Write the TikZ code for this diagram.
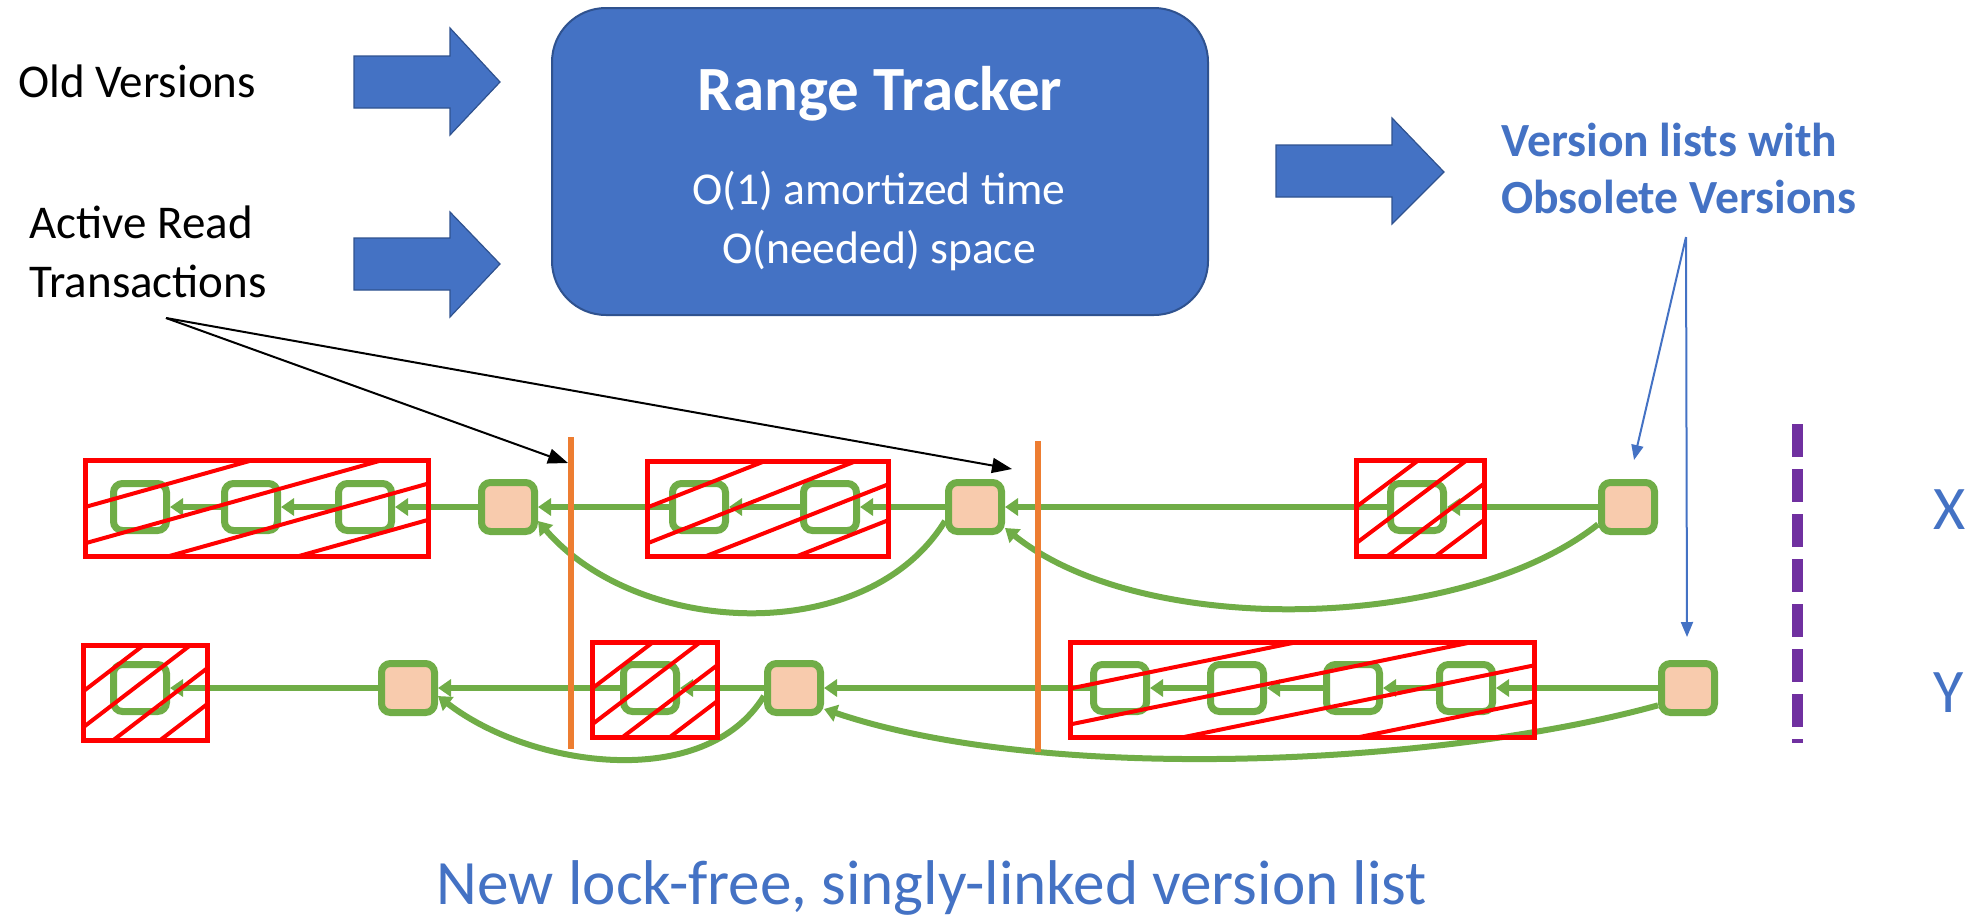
\documentclass[tikz,border=0pt]{standalone}
\usepackage{fontspec}
\setmainfont{Carlito}
\usetikzlibrary{arrows.meta,fit,calc}
\definecolor{cblue}{HTML}{4472C4}
\definecolor{cdblue}{HTML}{2F528F}
\definecolor{cgreen}{HTML}{70AD47}
\definecolor{cpeach}{HTML}{F8CBAD}
\definecolor{cred}{HTML}{FF0000}
\definecolor{corange}{HTML}{ED7D31}
\definecolor{cpurple}{HTML}{7030A0}
\tikzset{
  vnode/.style={draw=cgreen, line width=3.5pt, rounded corners=4.5pt, minimum width=26.5pt, minimum height=23.5pt, inner sep=0pt, fill=white},
  live/.style={vnode, minimum height=24.5pt, fill=cpeach},
  link/.style={draw=cgreen, line width=3pt, -{Triangle[length=6.5pt,width=8.5pt]}},
  hatchline/.style={draw=cred, line width=2pt},
  obsbox/.style={draw=cred, line width=2.5pt, inner sep=0pt},
  cutline/.style={draw=corange, line width=3.3pt},
  ptr/.style={draw=black, line width=1pt, -{Triangle[length=10pt,width=7.5pt]}},
  bptr/.style={draw=cblue, line width=1pt, -{Triangle[length=7.5pt,width=6pt]}},
  blockarrow/.style={fill=cblue, draw=cdblue, line width=0.6pt},
  lbl/.style={inner sep=0pt, anchor=base west},
  clbl/.style={inner sep=0pt, anchor=base},
}
\newcommand{\hatchbox}[5]{%
  \begin{scope}
    \clip (#2,#3) rectangle (#4,#5);
    \foreach \cc in {0.51,0.132,-0.246,-0.624}{
      \draw[hatchline] ({#2-(#4-#2)},{#5-(\cc-1)*(#5-#3)}) -- ({#4+(#4-#2)},{#5-(\cc+2)*(#5-#3)});
    }
  \end{scope}
  \node[obsbox, fit={(#2,#3)(#4,#5)}] (#1) {};
}
\newcommand{\fsLabel}{\fontsize{23.5pt}{28pt}\selectfont}
\begin{document}
\begin{tikzpicture}[x=0.5pt,y=-0.5pt]
\useasboundingbox (0,0) rectangle (1980,916);

% ---- top part ----
\node[lbl, font=\fsLabel] (old) at (18,97) {Old Versions};
\node[lbl, font=\fsLabel] (act1) at (29,238) {Active Read};
\node[lbl, font=\fsLabel] (act2) at (29,297) {Transactions};

\draw[blockarrow] (354,56) -- (450,56) -- (450,28) -- (500,82) -- (450,135) -- (450,108) -- (354,108) -- cycle;
\draw[blockarrow] (354,238) -- (450,238) -- (450,212) -- (500,264) -- (450,317) -- (450,290) -- (354,290) -- cycle;
\draw[blockarrow] (1276,145) -- (1392,145) -- (1392,118) -- (1444,172) -- (1392,224) -- (1392,197) -- (1276,197) -- cycle;

\node[fill=cblue, draw=cdblue, line width=1pt, rounded corners=27pt, minimum width=328pt, minimum height=153.5pt, inner sep=0pt] (rt) at (880,161.5) {};
\node[clbl, text=white, font=\fontsize{31.5pt}{36pt}\selectfont\bfseries] (rtt) at (880,110) {Range Tracker};
\node[clbl, text=white, font=\fontsize{22.8pt}{27pt}\selectfont] (rt1) at (879,204) {O(1) amortized time};
\node[clbl, text=white, font=\fontsize{22.8pt}{27pt}\selectfont] (rt2) at (879,263) {O(needed) space};

\node[lbl, text=cblue, font=\fontsize{23.8pt}{28pt}\selectfont\bfseries] (vl1) at (1501,156) {Version lists with};
\node[lbl, text=cblue, font=\fontsize{23.8pt}{28pt}\selectfont\bfseries] (vl2) at (1501,213) {Obsolete Versions};

% ---- version list X ----
\node[vnode] (A1) at (140,507) {};
\node[vnode] (A2) at (251,507) {};
\node[vnode] (A3) at (365,507) {};
\node[live]  (P1) at (508,507) {};
\node[vnode] (B1) at (699,507) {};
\node[vnode] (B2) at (830,507) {};
\node[live]  (P2) at (975,507) {};
\node[vnode] (C1) at (1417,507) {};
\node[live]  (P3) at (1628,507) {};

% ---- version list Y ----
\node[vnode] (D1) at (140,688) {};
\node[live]  (Q1) at (408,688) {};
\node[vnode] (D2) at (650,688) {};
\node[live]  (Q2) at (794,688) {};
\node[vnode] (E1) at (1120,688) {};
\node[vnode] (E2) at (1237,688) {};
\node[vnode] (E3) at (1353,688) {};
\node[vnode] (E4) at (1466,688) {};
\node[live]  (Q3) at (1688,688) {};

% straight links
\draw[link] (A2) -- (A1);
\draw[link] (A3) -- (A2);
\draw[link] (P1) -- (A3);
\draw[link] (B1) -- (P1);
\draw[link] (B2) -- (B1);
\draw[link] (P2) -- (B2);
\draw[link] (C1) -- (P2);
\draw[link] (P3) -- (C1);

\draw[link] (Q1) -- (D1);
\draw[link] (D2) -- (Q1);
\draw[link] (Q2) -- (D2);
\draw[link] (E1) -- (Q2);
\draw[link] (E2) -- (E1);
\draw[link] (E3) -- (E2);
\draw[link] (E4) -- (E3);
\draw[link] (Q3) -- (E4);

% curved skip links
\draw[link] (P2.205) .. controls (867,648) and (638,637) .. (P1.-25);
\draw[link] (P3.210) .. controls (1462,632) and (1143,639) .. (P2.-35);
\draw[link] (Q2.195) .. controls (705,792) and (531,768) .. (Q1.-15);
\draw[link] (Q3.210) .. controls (1442,765) and (1049,785) .. (Q2.-35);

% obsolete (hatched) boxes
\hatchbox{R1}{85}{460}{428}{556}
\hatchbox{R2}{647}{461}{888}{556}
\hatchbox{R3}{1356}{460}{1484}{556}
\hatchbox{R4}{83}{645}{207}{740}
\hatchbox{R5}{592}{642}{717}{737}
\hatchbox{R6}{1070}{642}{1534}{737}

% active read transactions (cuts)
\coordinate (o1t) at (571,437);
\coordinate (o1b) at (571,749);
\coordinate (o2t) at (1038,441);
\coordinate (o2b) at (1038,752);
\draw[cutline] (o1t) -- (o1b);
\draw[cutline] (o2t) -- (o2b);

% purple dashed separator
\coordinate (sept) at (1797,424);
\coordinate (sepb) at (1797,743);
\draw[draw=cpurple, line width=5.5pt, dash pattern=on 16.5pt off 6pt] (sept) -- (sepb);

% pointers from labels
\coordinate (rd) at (166,318);
\coordinate (rd1) at (568,463);
\coordinate (rd2) at (1012,469);
\draw[ptr] (rd) -- (rd1);
\draw[ptr] (rd) -- (rd2);

\coordinate (ov) at (1686,237);
\coordinate (ov1) at (1634,460);
\coordinate (ov2) at (1687,637);
\draw[bptr] (ov) -- (ov1);
\draw[bptr] (ov) -- (ov2);

% row labels
\node[lbl, text=cblue, font=\fontsize{31pt}{36pt}\selectfont] (lx) at (1933,529) {X};
\node[lbl, text=cblue, font=\fontsize{31pt}{36pt}\selectfont] (ly) at (1933,712) {Y};

\node[clbl, text=cblue, font=\fontsize{31.6pt}{38pt}\selectfont] (cap) at (932,904) {New lock-free, singly-linked version list};
\end{tikzpicture}
\end{document}
